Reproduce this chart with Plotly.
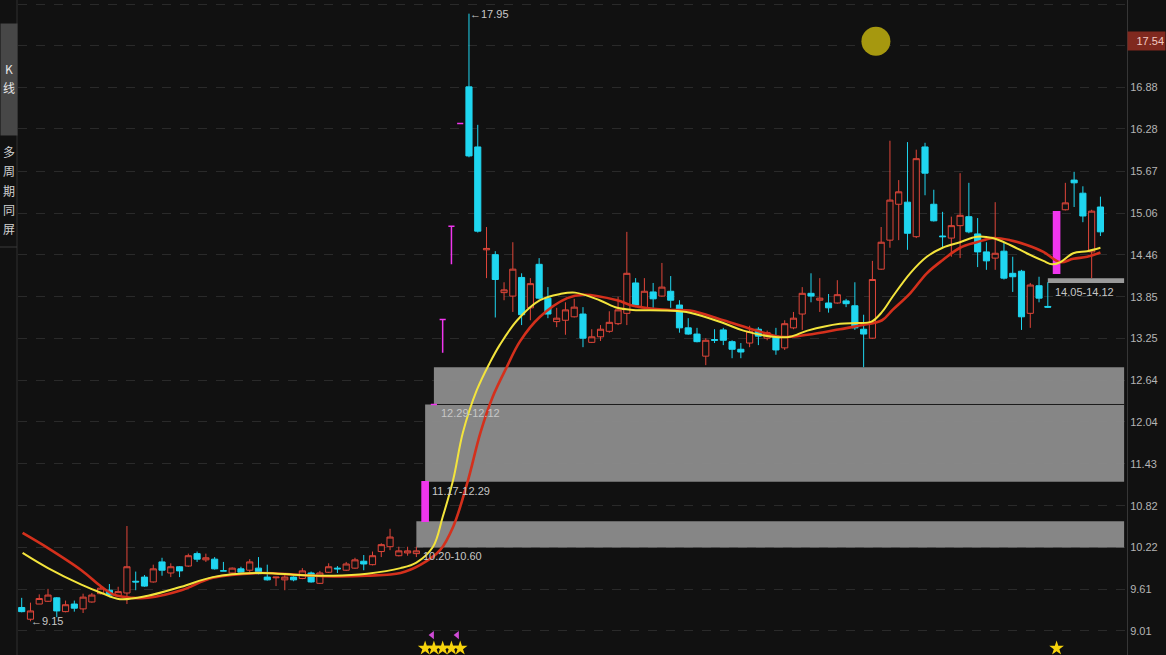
import plotly.graph_objects as go

# ---------------- data ----------------
opens = [9.35, 9.18, 9.40, 9.44, 9.49, 9.29, 9.40, 9.33, 9.43, 9.55,
         9.60, 9.52, 9.56, 9.73, 9.79, 9.72, 10.01, 9.85, 9.94, 9.95,
         10.13, 10.04, 10.05, 9.88, 9.85, 9.91, 9.89, 9.92, 9.79, 9.78,
         9.75, 9.79, 9.77, 9.85, 9.70, 9.86, 9.92, 9.89, 9.92, 10.02,
         9.97, 10.16, 10.23, 10.10, 10.14, 10.13, 10.60, 12.29, 13.52, 14.87,
         16.36, 16.89, 16.02, 14.53, 14.46, 13.91, 13.86, 14.13, 13.69, 14.32,
         13.83, 13.49, 13.51, 13.56, 13.60, 13.19, 13.27, 13.35, 13.46, 13.61,
         14.05, 13.69, 13.92, 13.86, 13.93, 13.73, 13.40, 13.31, 12.99, 13.23,
         13.37, 13.20, 13.09, 13.18, 13.38, 13.25, 13.28, 13.11, 13.40, 13.60,
         13.90, 13.80, 13.76, 13.76, 13.79, 13.72, 13.38, 13.25, 14.25, 14.67,
         15.19, 15.22, 14.72, 16.02, 15.19, 14.73, 14.70, 14.88, 15.01, 14.76,
         14.50, 14.41, 14.51, 14.19, 14.22, 13.61, 14.01, 13.71, 14.19, 15.11,
         15.54, 15.35, 14.50, 15.15]
highs = [9.49, 9.42, 9.54, 9.62, 9.50, 9.45, 9.45, 9.55, 9.56, 9.68,
         9.69, 9.65, 10.53, 9.87, 9.82, 9.97, 10.07, 9.99, 9.95, 10.13,
         10.16, 10.13, 10.08, 10.01, 9.93, 9.94, 10.05, 10.08, 9.97, 9.79,
         9.82, 9.80, 9.92, 9.87, 9.88, 9.99, 9.95, 10.01, 10.07, 10.11,
         10.16, 10.28, 10.49, 10.23, 10.23, 10.23, 11.17, 12.29, 13.52, 14.87,
         16.36, 17.95, 16.34, 14.86, 14.51, 14.06, 14.64, 14.19, 14.12, 14.41,
         13.99, 13.69, 13.77, 13.82, 13.70, 13.38, 13.44, 13.64, 13.85, 14.79,
         14.12, 14.12, 14.05, 14.34, 14.15, 13.80, 13.54, 13.40, 13.25, 13.38,
         13.40, 13.22, 13.18, 13.43, 13.41, 13.36, 13.40, 13.51, 13.63, 13.99,
         14.19, 14.12, 13.89, 14.09, 13.82, 14.06, 13.59, 14.37, 14.86, 16.11,
         15.54, 16.09, 15.98, 16.08, 15.40, 15.08, 15.01, 15.64, 15.50, 14.99,
         14.64, 15.22, 14.64, 14.43, 14.24, 14.05, 14.14, 14.06, 15.08, 15.50,
         15.66, 15.45, 15.11, 15.30]
lows = [9.28, 9.15, 9.40, 9.43, 9.21, 9.28, 9.29, 9.27, 9.42, 9.54,
        9.50, 9.51, 9.40, 9.60, 9.65, 9.71, 9.81, 9.79, 9.79, 9.94,
        10.01, 10.01, 9.90, 9.88, 9.82, 9.84, 9.85, 9.83, 9.74, 9.66,
        9.60, 9.73, 9.76, 9.71, 9.69, 9.85, 9.85, 9.88, 9.91, 9.89,
        9.96, 10.08, 10.18, 10.09, 10.10, 10.08, 10.60, 12.29, 13.04, 14.32,
        16.36, 15.87, 14.78, 14.12, 13.55, 13.80, 13.63, 13.44, 13.51, 13.81,
        13.54, 13.41, 13.30, 13.55, 13.12, 13.18, 13.21, 13.33, 13.44, 13.44,
        13.70, 13.67, 13.69, 13.85, 13.69, 13.33, 13.30, 13.19, 12.86, 13.18,
        13.15, 12.96, 12.96, 13.12, 13.15, 13.22, 13.01, 13.08, 13.38, 13.37,
        13.77, 13.63, 13.62, 13.75, 13.70, 13.37, 12.83, 13.24, 14.24, 14.56,
        14.67, 14.53, 14.70, 15.32, 14.94, 14.56, 14.43, 14.41, 14.77, 14.28,
        14.24, 14.24, 14.10, 13.92, 13.37, 13.40, 13.77, 13.69, 14.19, 15.10,
        15.15, 14.93, 14.12, 14.73]
closes = [9.29, 9.30, 9.48, 9.53, 9.30, 9.39, 9.34, 9.50, 9.53, 9.63,
          9.53, 9.58, 9.94, 9.72, 9.66, 9.91, 9.89, 9.94, 9.88, 10.10,
          10.05, 10.07, 9.91, 9.88, 9.92, 9.86, 10.01, 9.84, 9.75, 9.79,
          9.79, 9.75, 9.88, 9.72, 9.85, 9.94, 9.91, 9.98, 10.04, 9.98,
          10.10, 10.26, 10.37, 10.17, 10.17, 10.17, 11.17, 12.29, 13.52, 14.87,
          16.36, 15.89, 14.80, 14.55, 14.10, 13.95, 14.25, 13.59, 14.04, 13.83,
          13.60, 13.54, 13.66, 13.70, 13.25, 13.27, 13.38, 13.48, 13.66, 14.19,
          13.73, 13.93, 13.82, 13.99, 13.80, 13.40, 13.31, 13.20, 13.22, 13.22,
          13.22, 13.09, 13.05, 13.35, 13.28, 13.33, 13.08, 13.46, 13.54, 13.90,
          13.86, 13.83, 13.69, 13.88, 13.75, 13.40, 13.31, 14.10, 14.64, 15.25,
          15.37, 14.77, 15.85, 15.64, 14.95, 14.72, 14.88, 15.03, 14.79, 14.50,
          14.37, 14.48, 14.12, 14.14, 13.56, 14.02, 13.83, 13.70, 15.08, 15.21,
          15.50, 15.02, 15.09, 14.79]
signal_days = [47, 48, 49, 50, 51, 119]        # magenta candles
star_days = [47, 48, 49, 50, 51, 119]
flag_days = [47.8, 50.65]

ma_fast_x = [1.1, 4.0, 7.8, 10.1, 12.2, 15.4, 19.2, 22.8, 28.2, 32.7, 36.5, 40.4, 44.2,
             46.0, 47.9, 49.0, 50.2, 51.3, 52.9, 54.4, 55.5, 57.5, 60.1, 62.4, 64.1,
             66.9, 68.9, 70.7, 74.6, 77.2, 81.0, 83.3, 86.7, 88.6, 90.6, 94.3, 96.2,
             97.9, 99.1, 100.3, 102.3, 104.2, 106.0, 108.0, 109.9, 111.7, 113.7,
             115.6, 117.5, 118.5, 119.4, 120.9, 122.5, 124.0]
ma_fast = [10.14, 9.92, 9.68, 9.56, 9.47, 9.52, 9.65, 9.79, 9.85, 9.82, 9.81, 9.84, 9.92,
           10.00, 10.23, 10.66, 11.20, 11.88, 12.50, 12.90, 13.15, 13.51, 13.80, 13.89,
           13.91, 13.80, 13.69, 13.66, 13.65, 13.62, 13.47, 13.36, 13.27, 13.27, 13.36,
           13.46, 13.47, 13.49, 13.63, 13.85, 14.19, 14.43, 14.56, 14.64, 14.72, 14.70,
           14.60, 14.48, 14.37, 14.32, 14.35, 14.48, 14.51, 14.56]
ma_slow_x = [1.1, 4.0, 7.8, 10.1, 11.6, 13.7, 15.4, 19.2, 22.8, 28.2, 32.7, 36.5, 40.4,
             44.2, 46.5, 48.7, 50.2, 51.8, 53.3, 54.7, 56.3, 57.8, 60.1, 63.2, 65.0,
             68.9, 70.7, 74.6, 77.2, 81.0, 84.8, 87.5, 90.6, 94.3, 96.9, 99.1, 100.3,
             102.3, 104.2, 106.0, 108.0, 109.9, 111.7, 113.7, 115.6, 117.5, 119.4,
             120.9, 122.5, 124.0]
ma_slow = [10.43, 10.21, 9.89, 9.65, 9.53, 9.49, 9.49, 9.60, 9.78, 9.85, 9.82, 9.80, 9.81,
           9.85, 9.97, 10.18, 10.52, 11.15, 11.88, 12.40, 12.83, 13.20, 13.56, 13.83,
           13.88, 13.80, 13.72, 13.66, 13.65, 13.51, 13.36, 13.27, 13.30, 13.38, 13.44,
           13.51, 13.66, 13.90, 14.19, 14.38, 14.56, 14.64, 14.70, 14.67, 14.60, 14.50,
           14.35, 14.40, 14.43, 14.49]

# gap zones: start day, low, high, label
zone_start = [46, 47, 48, 118]
zone_low = [10.22, 11.17, 12.29, 14.05]
zone_high = [10.60, 12.29, 12.83, 14.12]
zone_label = ["10.20-10.60", "11.17-12.29", "12.29-12.12", "14.05-14.12"]
zone_end = 126.7

tick_vals = [9.01, 9.61, 10.22, 10.82, 11.43, 12.04, 12.64, 13.25, 13.85, 14.46,
             15.06, 15.67, 16.28, 16.88, 17.49, 18.09]
tick_text = ["9.01", "9.61", "10.22", "10.82", "11.43", "12.04", "12.64", "13.25",
             "13.85", "14.46", "15.06", "15.67", "16.28", "16.88", "", "18.09"]

high_mark = (52, 17.95)
low_mark = (2, 9.15)
last_price = 17.54
dot_pos = (98.4, 17.55)

# ---------------- styling ----------------
BG = "#111111"
RED = "#e0463a"
CYAN = "#1fd6f0"
MAG = "#f036ee"
FONT = "Liberation Sans, Arial"

days = list(range(1, len(opens) + 1))
norm = [i for i, d in enumerate(days) if d not in signal_days]
sig = [i for i, d in enumerate(days) if d in signal_days]

fig = go.Figure()

fig.add_trace(go.Candlestick(
    x=[days[i] for i in norm], open=[opens[i] for i in norm],
    high=[highs[i] for i in norm], low=[lows[i] for i in norm],
    close=[closes[i] for i in norm],
    increasing=dict(line=dict(color=RED, width=1), fillcolor=BG),
    decreasing=dict(line=dict(color=CYAN, width=1), fillcolor=CYAN),
    whiskerwidth=0, showlegend=False, hoverinfo="skip"))

fig.add_trace(go.Candlestick(
    x=[days[i] for i in sig], open=[opens[i] for i in sig],
    high=[highs[i] for i in sig], low=[lows[i] for i in sig],
    close=[closes[i] for i in sig],
    increasing=dict(line=dict(color=MAG, width=1.5), fillcolor=MAG),
    decreasing=dict(line=dict(color=MAG, width=1.5), fillcolor=MAG),
    whiskerwidth=0, showlegend=False, hoverinfo="skip"))

fig.add_trace(go.Scatter(x=ma_slow_x, y=ma_slow, mode="lines",
                         line=dict(color="#d4301c", width=2.6, shape="spline", smoothing=1),
                         showlegend=False, hoverinfo="skip"))
fig.add_trace(go.Scatter(x=ma_fast_x, y=ma_fast, mode="lines",
                         line=dict(color="#f3e43c", width=2, shape="spline", smoothing=1),
                         showlegend=False, hoverinfo="skip"))

# bottom markers
fig.add_trace(go.Scatter(x=star_days, y=[8.76] * len(star_days), mode="markers",
                         marker=dict(symbol="star", size=11, color="#f7d40c"),
                         showlegend=False, hoverinfo="skip"))
fig.add_trace(go.Scatter(x=flag_days, y=[8.95] * len(flag_days), mode="markers",
                         marker=dict(symbol="triangle-left", size=7, color="#cf4bd6"),
                         showlegend=False, hoverinfo="skip"))
# olive dot
fig.add_trace(go.Scatter(x=[dot_pos[0]], y=[dot_pos[1]], mode="markers",
                         marker=dict(size=29, color="#a6980f"),
                         showlegend=False, hoverinfo="skip"))

shapes = []
annotations = []
for s, lo, hi, lab in zip(zone_start, zone_low, zone_high, zone_label):
    shapes.append(dict(type="rect", xref="x", yref="y", x0=s, x1=zone_end, y0=lo, y1=hi,
                       fillcolor="#8a8a8a" if hi - lo > 0.1 else "#9a9a9a",
                       opacity=0.97 if hi - lo > 0.1 else 1,
                       line=dict(width=0), layer="between"))
    annotations.append(dict(x=s, y=lo, xref="x", yref="y", text=lab, showarrow=False,
                            xanchor="left", yanchor="top", xshift=5, yshift=-1,
                            font=dict(size=11, color="#c6c6c6", family=FONT)))
# dark seam between stacked zones
shapes.append(dict(type="line", xref="x", yref="y", x0=zone_start[2], x1=zone_end,
                   y0=zone_low[2], y1=zone_low[2], line=dict(color="#1c1c1c", width=1),
                   layer="between"))

# high / low labels
annotations.append(dict(x=high_mark[0], y=high_mark[1], xref="x", yref="y",
                        text="←" + f"{high_mark[1]:.2f}", showarrow=False, xanchor="left",
                        xshift=-1, font=dict(size=11, color="#c8c8c8", family=FONT)))
annotations.append(dict(x=low_mark[0], y=low_mark[1], xref="x", yref="y",
                        text="←" + f"{low_mark[1]:.2f}", showarrow=False, xanchor="left",
                        xshift=-1, font=dict(size=11, color="#c8c8c8", family=FONT)))
# last price tag
annotations.append(dict(x=1, y=17.55, xref="paper", yref="y", text=f"{last_price:.2f}",
                        showarrow=False, xanchor="left", yanchor="middle", align="right",
                        bgcolor="#80291f", width=35, height=16, borderpad=1,
                        font=dict(size=11, color="#f3c9c2", family=FONT)))

# left side panel
W_PLOT = 1166 - 18 - 39
H = 655
def px(xp):
    return (xp - 18) / W_PLOT
def py(yp):
    return 1 - yp / H

annotations.append(dict(x=px(0), y=py(23), xref="paper", yref="paper", text=" ",
                        showarrow=False, xanchor="left", yanchor="top",
                        width=16, height=111, borderpad=0, bgcolor="#474747"))
cjk = "Noto Sans CJK SC"
for ch, yy in [("K", 68), ("线", 88)]:
    annotations.append(dict(x=px(8.5), y=py(yy), xref="paper", yref="paper", text=ch,
                            showarrow=False, xanchor="center", yanchor="middle",
                            font=dict(size=12, color="#e6e6e6", family=cjk)))
for ch, yy in zip("多周期同屏", [151, 170, 190, 209, 228]):
    annotations.append(dict(x=px(8.5), y=py(yy), xref="paper", yref="paper", text=ch,
                            showarrow=False, xanchor="center", yanchor="middle",
                            font=dict(size=12, color="#d0d0d0", family=cjk)))
shapes.append(dict(type="line", xref="paper", yref="paper", x0=px(17), x1=px(17),
                   y0=0, y1=1, line=dict(color="#303030", width=1)))
shapes.append(dict(type="line", xref="paper", yref="paper", x0=px(0), x1=px(17),
                   y0=py(247), y1=py(247), line=dict(color="#3a3a3a", width=1)))

fig.update_layout(
    width=1166, height=655,
    margin=dict(l=18, r=39, t=0, b=0, pad=0),
    paper_bgcolor=BG, plot_bgcolor=BG,
    shapes=shapes, annotations=annotations,
    showlegend=False, hovermode=False,
    boxgap=0.3, boxgroupgap=0,
    xaxis=dict(range=[0.578, 127.03], visible=False, showgrid=False, zeroline=False,
               rangeslider=dict(visible=False)),
    yaxis=dict(range=[8.662, 18.148], side="right", tickvals=tick_vals, ticktext=tick_text,
               showgrid=True, gridcolor="#2a2a2a", griddash="dash", gridwidth=1,
               zeroline=False, showline=True, linecolor="#363636", linewidth=1,
               ticks="", automargin=False,
               tickfont=dict(size=11, color="#b5b5b5", family=FONT)),
)

fig.write_html("out.html", config={"displayModeBar": False},
               post_script="document.body.style.margin='0';document.body.style.overflow='hidden';document.body.style.background='#111111';")
